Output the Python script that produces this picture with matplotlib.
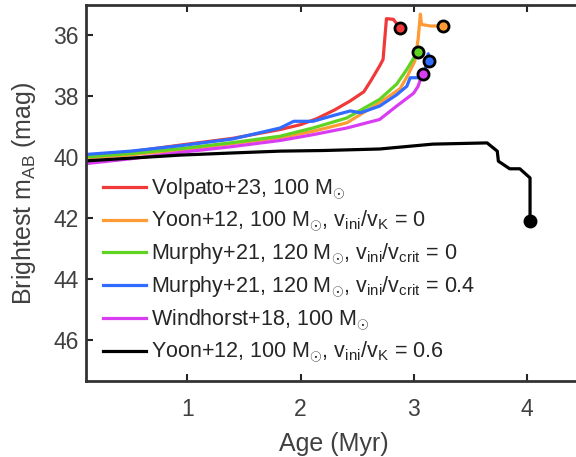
import matplotlib
matplotlib.use("Agg")
import matplotlib.pyplot as plt

plt.rcParams['font.family'] = ['Liberation Sans', 'DejaVu Sans']
plt.rcParams['mathtext.fontset'] = 'custom'
plt.rcParams['mathtext.rm'] = 'Liberation Sans'
plt.rcParams['mathtext.it'] = 'Liberation Sans:italic'
plt.rcParams['mathtext.bf'] = 'Liberation Sans:bold'

# ---- data ----
labels = [
    r"Volpato+23, 100 M$_{\odot}$",
    r"Yoon+12, 100 M$_{\odot}$, v$_{\rm ini}$/v$_{\rm K}$ = 0",
    r"Murphy+21, 120 M$_{\odot}$, v$_{\rm ini}$/v$_{\rm crit}$ = 0",
    r"Murphy+21, 120 M$_{\odot}$, v$_{\rm ini}$/v$_{\rm crit}$ = 0.4",
    r"Windhorst+18, 100 M$_{\odot}$",
    r"Yoon+12, 100 M$_{\odot}$, v$_{\rm ini}$/v$_{\rm K}$ = 0.6",
]
colors = ['#f03a3a', '#ff9a35', '#5fd322', '#2f6cff', '#d93df2', '#000000']

volpato_x = [0.10, 0.5, 0.94, 1.4, 1.82, 2.0, 2.14, 2.3, 2.44, 2.56, 2.62, 2.66, 2.70, 2.73, 2.76, 2.82, 2.88]
volpato_y = [39.95, 39.82, 39.60, 39.38, 39.09, 38.93, 38.74, 38.45, 38.15, 37.85, 37.5, 37.25, 37.0, 36.79, 35.45, 35.47, 35.75]

yoon0_x = [0.10, 0.5, 0.94, 1.4, 1.82, 2.11, 2.41, 2.70, 2.88, 2.95, 3.01, 3.04, 3.06, 3.07, 3.15, 3.26]
yoon0_y = [40.02, 39.92, 39.76, 39.55, 39.36, 39.15, 38.87, 38.21, 37.75, 37.3, 36.85, 36.13, 35.3, 35.64, 35.69, 35.69]

murphy0_x = [0.10, 0.5, 0.94, 1.4, 1.82, 2.11, 2.41, 2.70, 2.85, 2.94, 3.0, 3.04]
murphy0_y = [39.99, 39.88, 39.72, 39.52, 39.31, 39.04, 38.71, 38.10, 37.60, 37.12, 36.75, 36.55]

murphy4_x = [0.10, 0.5, 0.94, 1.4, 1.82, 1.94, 2.11, 2.30, 2.44, 2.53, 2.70, 2.85, 2.94, 2.97, 3.04, 3.09, 3.13, 3.14]
murphy4_y = [39.91, 39.80, 39.62, 39.40, 39.04, 38.82, 38.82, 38.62, 38.48, 38.54, 38.32, 37.95, 37.67, 37.39, 37.39, 37.36, 36.6, 36.85]

windhorst_x = [0.10, 0.5, 0.94, 1.4, 1.82, 2.11, 2.41, 2.70, 2.85, 3.0, 3.04, 3.06, 3.08]
windhorst_y = [40.21, 40.05, 39.84, 39.65, 39.45, 39.26, 39.04, 38.76, 38.32, 37.90, 37.67, 37.45, 37.28]

yoon6_x = [0.10, 0.5, 0.94, 1.4, 1.82, 2.2, 2.7, 3.17, 3.65, 3.74, 3.75, 3.85, 3.94, 4.03, 4.03]
yoon6_y = [40.12, 40.03, 39.93, 39.86, 39.80, 39.78, 39.73, 39.57, 39.53, 39.80, 40.13, 40.38, 40.38, 40.68, 42.10]

peak_x = [2.88, 3.26, 3.04, 3.14, 3.08, 4.03]
peak_y = [35.75, 35.69, 36.55, 36.85, 37.28, 42.10]

xticks = [1, 2, 3, 4]
yticks = [36, 38, 40, 42, 44, 46]

series_x = [volpato_x, yoon0_x, murphy0_x, murphy4_x, windhorst_x, yoon6_x]
series_y = [volpato_y, yoon0_y, murphy0_y, murphy4_y, windhorst_y, yoon6_y]

# ---- figure ----
fig = plt.figure(figsize=(5.76, 4.57), dpi=100)
ax = fig.add_axes([0.1488, 0.1663, 0.8617, 0.8228])

axcol = '#262626'
for sx, sy, c, lab in zip(series_x, series_y, colors, labels):
    ax.plot(sx, sy, color=c, lw=2.3, label=lab, zorder=2)
for px, py, c in zip(peak_x, peak_y, colors):
    ax.plot([px], [py], 'o', ms=8, mfc=c, mec='black', mew=2.0, zorder=3)

ax.set_xlim(0.10, 4.49)
ax.set_ylim(47.35, 35)
ax.set_xticks(xticks)
ax.set_yticks(yticks)
ax.tick_params(direction='in', length=5, width=1.5, colors=axcol, labelsize=16.5,
               top=True, right=False, labelcolor='#404040')
ax.tick_params(axis='x', pad=12)
ax.tick_params(axis='y', pad=5)
for s in ['left', 'bottom', 'top']:
    ax.spines[s].set_linewidth(2.0)
    ax.spines[s].set_color('#333333')
ax.spines['right'].set_visible(False)

ax.set_xlabel('Age (Myr)', fontsize=18, color='#404040', labelpad=8)
ax.set_ylabel(r'Brightest m$_{\rm AB}$ (mag)', fontsize=18, color='#404040', labelpad=11)

leg = ax.legend(loc='upper left', bbox_to_anchor=(0.005, 0.585), frameon=False,
                fontsize=15.5, handlelength=2.0, handletextpad=0.2,
                labelspacing=0.33, borderaxespad=0.3)
for t in leg.get_texts():
    t.set_color('#262626')

fig.savefig('out.png', dpi=100)
